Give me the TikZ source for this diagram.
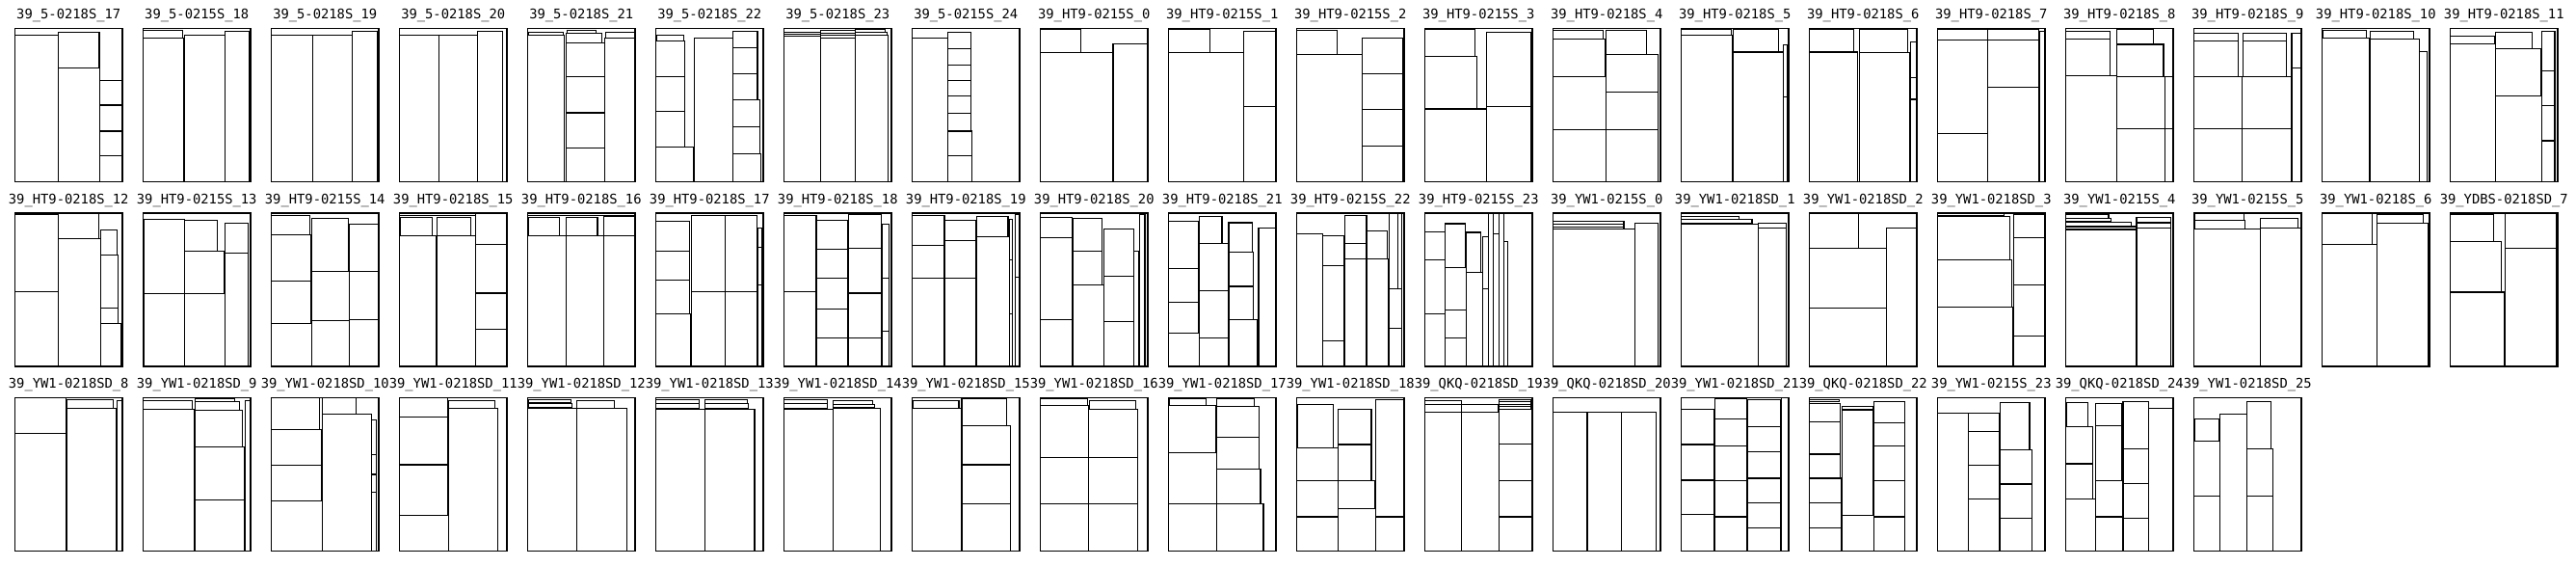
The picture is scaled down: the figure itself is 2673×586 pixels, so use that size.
\documentclass[tikz,border=0pt]{standalone}
\usepackage{fontspec}
\setmonofont{DejaVu Sans Mono}
\tikzset{
  piece/.style={draw=black, line width=1.1pt},
  sheet/.style={draw=black, line width=1.2pt},
  lbl/.style={font=\ttfamily\fontsize{13.8}{14}\selectfont, inner sep=0pt, anchor=base}
}
\newcommand{\cutpanel}[4]{%
  \pgfmathsetmacro{\pnlx}{15.5+133*#1}%
  \pgfmathsetmacro{\pnly}{29.5+191.5*#2}%
  \begin{scope}[shift={(\pnlx pt,-\pnly pt)}, x=1.115pt, y=-1.59pt]
    \foreach \xa/\ya/\xb/\yb in {#4} {\draw[piece] (\xa,\ya) rectangle (\xb,\yb);}
    \draw[sheet] (0,0) rectangle (100,100);
    \node[lbl] (t#1r#2) at (50,-6) {#3};
  \end{scope}}
\begin{document}
\begin{tikzpicture}[x=1pt,y=1pt]
\fill[white] (0,0) rectangle (2673,-586);
\useasboundingbox (0,0) rectangle (2673,-586);
% ---- row 0
\cutpanel{0}{0}{39\_5-0218S\_17}{0/4.2/40.4/100, 40.4/2.5/78.5/25.8, 40.4/25.8/79.2/100, 79.2/33.75/100/50, 79.2/50/100/67, 79.2/67/100/83.3, 79.2/83.3/100/100}
\cutpanel{1}{0}{39\_5-0215S\_18}{0/1.5/37/6.25, 0/6.25/37.7/100, 38.5/4.6/76.2/100, 76.2/2.1/98.8/100}
\cutpanel{2}{0}{39\_5-0218S\_19}{0/4.2/38.5/100, 38.5/4.2/75/100, 75/1.9/98.5/100}
\cutpanel{3}{0}{39\_5-0218S\_20}{0/4.2/36.5/100, 36.5/4.2/72.3/100, 72.3/1.9/96.2/100}
\cutpanel{4}{0}{39\_5-0218S\_21}{0.8/2.5/33.3/4.2, 36.5/1.5/63.5/2.9, 36/2.9/69.4/9.2, 36/9.2/71.8/31.7, 36/31.7/71.8/55, 36/55/71.8/78, 36/78/71.8/100, 0/4.6/34.1/100, 72.5/2.5/99.2/6.25, 71.8/6.25/100/100}
\cutpanel{5}{0}{39\_5-0218S\_22}{0.8/4.2/26.2/8.1, 0/8.1/27/31.25, 0/31.25/27/54, 0/54/27/77.5, 0/77.5/35.4/100, 36.2/6.25/72/100, 72/1.9/94.6/12.5, 72/12.5/94.6/29.6, 72/29.6/94.6/46.7, 72/46.7/97/64, 72/64/97/82, 72/82/98/100}
\cutpanel{6}{0}{39\_5-0218S\_23}{0/2.5/33.7/3.5, 0/3.5/33.7/5, 0/5/33.7/100, 34.1/1.5/66.7/3.1, 34.1/3.1/66.7/4.6, 34.1/4.6/66.7/6.25, 34.1/6.25/66.7/100, 66.7/0.8/93.8/2.5, 66.7/2.5/96.1/4.2, 66.7/4.2/96.9/100}
\cutpanel{7}{0}{39\_5-0215S\_24}{0/6.25/33/100, 33.3/2.5/54.7/13.3, 33.3/13.3/54.7/23.75, 33.3/23.75/54.7/33.75, 33.3/33.75/54.7/44.2, 33.3/44.2/54.7/55.2, 33.3/55.2/54.7/67, 33.3/67/55.4/83.1, 33.3/83.1/55.4/100}
\cutpanel{8}{0}{39\_HT9-0215S\_0}{0/0.4/37.7/16, 0/16/67.7/100, 67.7/9.8/100/100}
\cutpanel{9}{0}{39\_HT9-0215S\_1}{0/0.4/38.9/16, 0/16/69.6/100, 69.6/1.9/100/50.8, 69.6/50.8/100/100}
\cutpanel{10}{0}{39\_HT9-0215S\_2}{0/1.5/38/17, 0/17/60.8/100, 60.8/6.25/98.8/29.6, 60.8/29.6/98.8/53.1, 60.8/53.1/98.8/76.5, 60.8/76.5/98.8/100}
\cutpanel{11}{0}{39\_HT9-0215S\_3}{0/0.8/46.5/18.1, 0/18.1/48.4/52.5, 0/52.5/57.4/100, 57.4/2.5/98.8/50.8, 57.4/50.8/98.8/100}
\cutpanel{12}{0}{39\_HT9-0218S\_4}{0/1.5/46.5/6.7, 0/6.7/48.4/31.25, 0/31.25/49.2/66, 0/66/49.2/100, 49.6/1.5/87.2/16.7, 49.6/16.7/98/41.5, 49.6/41.5/98/66, 49.6/66/98/100}
\cutpanel{13}{0}{39\_HT9-0218S\_5}{0/0.8/46.9/4.2, 0/4.2/47.7/100, 48.4/0.8/90.3/15.4, 48.4/15.4/95/100, 95/10.8/98.8/44.6, 95/44.6/98.8/100}
\cutpanel{14}{0}{39\_HT9-0218S\_6}{0/0.8/41.6/15.4, 46.7/0.8/91.4/16, 0/15.4/44.7/100, 46.7/16/93/100, 94.2/8.75/99.2/32.3, 94.2/32.3/99.2/46.25, 94.2/46.25/99.2/100}
\cutpanel{15}{0}{39\_HT9-0218S\_7}{0/0.8/46.3/7.3, 47/0.8/94.1/7.7, 0/7.3/47/68.75, 0/68.75/47/100, 47/7.7/94.1/38.3, 47/38.3/94.1/100, 94.9/1.9/99.2/100}
\cutpanel{16}{0}{39\_HT9-0218S\_8}{0/1.9/41/7.1, 0/7.1/41/30.6, 47.3/0.8/81.25/10.4, 47.3/10.4/91/31.25, 0/30.6/47.3/100, 47.3/31.25/92.2/65.6, 47.3/65.6/92.2/100, 92.2/31.25/100/65.6, 92.2/65.6/100/100}
\cutpanel{17}{0}{39\_HT9-0218S\_9}{0/3.1/41.2/8.3, 45.9/3.1/86.3/8.3, 0/8.3/41.2/31.25, 45.9/8.3/86.3/31.25, 0/31.25/45.1/65.6, 0/65.6/45.1/100, 45.1/31.25/90.2/65.6, 45.1/65.6/90.2/100, 91/3.1/99.2/26, 91/26/99.2/100}
\cutpanel{18}{0}{39\_HT9-0218S\_10}{0.8/1.5/41/6.25, 44.9/1.9/85.4/7.1, 0/6.25/44.1/100, 44.9/7.1/90.2/100, 90.2/15/98/100}
\cutpanel{19}{0}{39\_HT9-0218S\_11}{0/5.2/41.2/10.2, 0/10.2/42/100, 42.4/2.5/76.5/13.3, 42.4/13.3/84.3/43.75, 42.4/43.75/85.1/100, 85.1/1.9/97.3/27.5, 85.1/27.5/97.3/50.4, 85.1/50.4/97.3/73.3, 85.1/73.3/97.3/100}
% ---- row 1
\cutpanel{0}{1}{39\_HT9-0218S\_12}{0/1/40.4/51.2, 0/51.2/40.4/100, 40.4/0/78/16.8, 40.4/16.8/79.6/100, 80/11.2/95/27.4, 80/27.4/96.2/62.1, 80/62.1/96.2/72.2, 80/72.2/98.8/100}
\cutpanel{1}{1}{39\_HT9-0215S\_13}{0.8/4.2/38.5/52.6, 0.8/52.6/38.5/100, 38.5/4.8/69.2/24.6, 38.5/24.6/75.8/52.6, 38.5/52.6/76.2/100, 76.2/6.7/98/26.3, 76.2/26.3/98/100}
\cutpanel{2}{1}{39\_HT9-0215S\_14}{0/1.7/36/14.1, 0/14.1/36.8/44.6, 0/44.6/37.2/72.2, 0/72.2/38/100, 38/3.6/71.7/38.3, 38/38.3/72.9/70.1, 38/70.1/72.9/100, 72.9/7.4/100/38.3, 72.9/38.3/100/69.5, 72.9/69.5/100/100}
\cutpanel{3}{1}{39\_HT9-0218S\_15}{0/0/70.8/1.7, 0.8/2.7/30.4/14.7, 35/2.7/66.1/14.7, 0/14.7/34.2/100, 35/14.7/70.8/100, 70.8/0.4/99.2/20.4, 70.8/20.4/99.2/52.2, 70.8/52.2/99.2/75.8, 70.8/75.8/99.2/100}
\cutpanel{4}{1}{39\_HT9-0218S\_16}{0/0/100/1.7, 0.8/2.7/29.2/14.7, 35.8/2.7/65/14.7, 71.2/2.1/99.2/14.7, 0/14.7/35.8/100, 35.8/14.7/71.2/100, 71.2/14.7/99.2/100}
\cutpanel{5}{1}{39\_HT9-0218S\_17}{0/5.3/31.5/24.6, 0/24.6/31.5/43.6, 0/43.6/31.5/65.7, 0/65.7/32.7/100, 33.5/1.7/64.2/51.2, 64.2/1.7/94.2/51.2, 33.5/51.2/64.2/100, 64.2/51.2/94.2/100, 95/9.5/98.8/22.1, 95/22.1/98.8/46.7, 95/46.7/98.8/100}
\cutpanel{6}{1}{39\_HT9-0218S\_18}{0/1.7/30/51.2, 0/51.2/30/100, 30.8/4.8/59.6/23.8, 30.8/23.8/59.6/42.7, 30.8/42.7/59.6/62.5, 30.8/62.5/59.6/81.5, 30.8/81.5/59.6/100, 60.4/1/90.4/22.7, 60.4/22.7/90.4/52.2, 60.4/52.2/90.4/81.5, 60.4/81.5/90.4/100, 91.2/7.4/98/42.5, 91.2/42.5/98/77.3, 91.2/77.3/98/100}
\cutpanel{7}{1}{39\_HT9-0218S\_19}{0/1.7/30/21, 0/21/30/42.5, 0/42.5/30/100, 30.8/4.8/59.6/17.9, 30.8/17.9/59.6/42.5, 30.8/42.5/59.6/100, 60.4/2.1/89.2/15.2, 60.4/15.2/90.4/100, 90.4/4.2/93.5/30.5, 90.4/30.5/93.5/65.7, 90.4/65.7/93.5/100, 96.2/1/99.2/41.7, 96.2/41.7/99.2/100}
\cutpanel{8}{1}{39\_HT9-0218S\_20}{0/2.7/29.2/15.8, 0/15.8/29.2/69.5, 0/69.5/29.2/100, 30/3.6/57.7/24.8, 30/24.8/57.7/46.7, 30/46.7/58.8/100, 58.8/10.5/86.9/41, 58.8/41/86.9/70.5, 58.8/70.5/86.9/100, 86.9/24.8/91.5/100, 92.3/1/97.3/100}
\cutpanel{9}{1}{39\_HT9-0218S\_21}{0/5.3/27.8/36.4, 0/36.4/27.8/57.9, 0/57.9/27.8/78.5, 0/78.5/28.6/100, 28.6/2.1/49.8/20, 28.6/20/56/50.5, 28.6/50.5/56/81.5, 28.6/81.5/56/100, 56/6.3/78/25.3, 56/25.3/78.8/47.8, 56/47.8/78.8/69.5, 56/69.5/82.6/100, 83.8/9.5/99.2/100}
\cutpanel{10}{1}{39\_HT9-0215S\_22}{0/13.3/23.8/100, 24.6/14.7/44.2/34.1, 24.6/34.1/44.2/83.2, 24.6/83.2/44.2/100, 45/1.7/65/19.6, 45/19.6/65/30.1, 45/30.1/65/100, 65/11.6/84.6/30.1, 65/30.1/85.4/100, 86.2/0/93.8/49.5, 93.8/0/97.7/49.5, 86.2/49.5/97.7/75.2, 86.2/75.2/97.7/100}
\cutpanel{11}{1}{39\_HT9-0215S\_23}{0/12.2/18.6/30.5, 0/30.5/18.6/65.7, 0/65.7/18.6/100, 18.6/6.9/37.6/35.8, 18.6/35.8/38.4/63.2, 18.6/63.2/38.4/81.7, 18.6/81.7/38.4/100, 38.8/12.6/52.3/38.9, 38.8/38.9/53.5/100, 53.5/15.4/58.9/49.5, 53.5/49.5/58.9/100, 59.3/0.4/64/100, 64/13.3/69/100, 69/0.4/73.6/100, 73.6/18.5/77.5/100}
\cutpanel{12}{1}{39\_YW1-0215S\_0}{0/5.3/65.9/7.4, 0/7.4/65.9/9, 0/9/65.9/10.5, 0/10.5/76.4/100, 76.4/6.7/98/100}
\cutpanel{13}{1}{39\_YW1-0218SD\_1}{0/2.1/53.5/4.2, 0/4.2/65.9/6.7, 0/7.4/71.7/100, 71.7/6.7/98.1/9.5, 71.7/9.5/98.1/100}
\cutpanel{14}{1}{39\_YW1-0218SD\_2}{0/0/45.5/23.2, 0/23.2/71.6/61.7, 0/61.7/71.6/100, 71.6/9.5/99.2/100}
\cutpanel{15}{1}{39\_YW1-0218SD\_3}{0/0.4/61.5/1.7, 0/2.1/66.9/30.5, 0/30.5/68.9/61.5, 0/61.5/70/100, 70.8/1/100/15.8, 70.8/15.8/100/46.7, 70.8/46.7/100/80, 70.8/80/100/100}
\cutpanel{16}{1}{39\_YW1-0215S\_4}{0/1/39.9/3.2, 0/3.6/41.9/5.3, 0/5.7/61.2/8.4, 0/8.8/65.1/10.5, 0/10.9/65.9/100, 65.9/2.7/98.1/6.3, 65.9/6.3/98.1/9.5, 65.9/9.9/98.1/100}
\cutpanel{17}{1}{39\_YW1-0215S\_5}{0.8/0/46.3/4.8, 0.8/4.8/47.8/10.5, 0/10.5/61.6/100, 62/3.6/96.9/9.5, 62/9.5/99.2/100}
\cutpanel{18}{1}{39\_YW1-0218S\_6}{0/0/46.9/20.4, 0/20.4/50.8/100, 51.2/1/94.5/6.7, 51.2/6.7/98.4/100}
\cutpanel{19}{1}{39\_YDBS-0218SD\_7}{0/1/40.4/18.3, 0/18.3/47.8/51.6, 0/51.6/49.8/100, 51/0.4/98.4/23.2, 51/23.2/98.4/100}
% ---- row 2
\cutpanel{0}{2}{39\_YW1-0218SD\_8}{0/0/47.3/23.1, 0/23.1/47.3/100, 48.1/1.3/91.2/6.9, 48.1/6.9/94.2/100, 95/2.1/99.2/100}
\cutpanel{1}{2}{39\_YW1-0218SD\_9}{0/1.7/45.4/7.4, 0/7.4/47.3/100, 48.1/0.6/85/2.7, 48.1/2.7/89.6/8.4, 48.1/8.4/92.7/32.1, 48.1/32.1/94.2/66.8, 48.1/66.8/94.2/100, 95.4/1.7/99.2/100}
\cutpanel{2}{2}{39\_YW1-0218SD\_10}{0/0/44.6/21, 0/21/46.5/44.1, 0/44.1/46.5/67.2, 0/67.2/47.7/100, 47.7/0/78.7/10.5, 47.7/10.5/93.4/100, 93.4/14.3/98.1/37, 93.4/37/98.1/50, 93.4/50/98.1/61.6, 93.4/61.6/98.1/100}
\cutpanel{3}{2}{39\_YW1-0218SD\_11}{0/0/44.7/12.6, 0/12.6/44.7/43.7, 0/43.7/44.7/76.9, 0/76.9/45.5/100, 45.9/1.7/88.7/6.9, 45.9/6.9/91.4/100}
\cutpanel{4}{2}{39\_YW1-0218SD\_12}{0.8/1/40.1/3.2, 0.8/3.8/40.9/6.3, 0/6.9/45.5/100, 45.9/1.7/80.9/6.9, 45.9/6.9/92.2/100}
\cutpanel{5}{2}{39\_YW1-0218SD\_13}{0/1/40.4/3.8, 0/3.8/40.4/6.9, 0/7.4/45.8/100, 45.8/1/85.4/3.8, 45.8/3.8/86.2/6.9, 45.8/7.4/91.9/100}
\cutpanel{6}{2}{39\_YW1-0218SD\_14}{0/1/40.4/3.8, 0/3.8/40.4/6.9, 0/7.4/45.4/100, 45.4/2.1/82.7/4.2, 45.4/4.2/84.6/6.3, 45.4/6.7/89.6/100}
\cutpanel{7}{2}{39\_YW1-0218SD\_15}{0.8/1.7/43.5/6.9, 0/6.9/46.2/100, 46.2/0.6/87.7/18.1, 46.2/18.1/91.2/43.7, 46.2/43.7/91.2/69.3, 46.2/69.3/91.2/100}
\cutpanel{8}{2}{39\_YW1-0218SD\_16}{0/0.6/44.2/5.3, 45.4/2.1/88.5/7.6, 0/5.3/44.6/38.9, 0/38.9/44.6/69.3, 0/69.3/44.6/100, 44.6/7.6/90.8/38.9, 44.6/38.9/90.8/69.3, 44.6/69.3/90.8/100}
\cutpanel{9}{2}{39\_YW1-0218SD\_17}{0.8/0.6/34.6/5.3, 44.7/0.6/79.8/5.9, 0/5.3/43.6/35.9, 0/35.9/44.7/69.3, 0/69.3/44.7/100, 44.7/5.9/84.4/25.8, 44.7/25.8/84.4/46.4, 44.7/46.4/85.6/69.3, 44.7/69.3/88.3/100}
\cutpanel{10}{2}{39\_YW1-0218SD\_18}{0.8/4.2/34.4/32.8, 0/32.8/38.2/54.2, 0/54.2/38.2/77.7, 0/77.7/38.2/100, 38.2/7.6/69.5/30.5, 38.2/30.5/69.5/54.2, 38.2/54.2/73/72.1, 38.2/72.1/73.4/100, 73.4/1.3/99.2/77.7, 73.4/77.7/99.2/100}
\cutpanel{11}{2}{39\_QKQ-0218SD\_19}{0/1.7/33.9/4.4, 0/4.4/33.9/9.5, 33.9/4.4/68.1/9.5, 0/9.5/33.9/100, 33.9/9.5/68.9/100, 68.9/1.3/98.4/2.7, 68.9/2.7/98.4/4.2, 68.9/4.2/98.4/5.9, 68.9/5.9/98.4/7.6, 68.9/7.6/99.2/30, 68.9/30/99.2/54.2, 68.9/54.2/99.2/77.7, 68.9/77.7/99.2/100}
\cutpanel{12}{2}{39\_QKQ-0218SD\_20}{0/9.5/31.8/100, 31.8/9.5/64/100, 64/9.5/95.7/100}
\cutpanel{13}{2}{39\_YW1-0218SD\_21}{0/7.6/30.2/30.5, 0/30.5/30.2/53.8, 0/53.8/30.2/76.3, 0/76.3/30.2/100, 31/0.6/61.2/13.9, 31/13.9/61.2/31.7, 31/31.7/61.2/54.2, 31/54.2/61.2/77.7, 31/77.7/61.2/100, 62/1/92.2/19.1, 62/19.1/92.2/35.3, 62/35.3/92.2/52.5, 62/52.5/92.2/68.5, 62/68.5/92.2/84.7, 62/84.7/92.2/100, 93/0/100/100}
\cutpanel{14}{2}{39\_QKQ-0218SD\_22}{0/1.3/28/2.7, 0/3.8/28.8/16, 0/16/28.8/36.8, 0/36.8/28.8/52.5, 0/52.5/30/68.5, 0/68.5/30/84.7, 0/84.7/30/100, 30.7/5.9/59.1/7.6, 30.7/8/59.1/76.7, 30.7/76.7/59.9/100, 59.9/2.3/89.1/16.4, 59.9/16.4/89.1/31.7, 59.9/31.7/89.1/54.2, 59.9/54.2/89.1/77.7, 59.9/77.7/89.1/100}
\cutpanel{15}{2}{39\_YW1-0215S\_23}{0/10.1/28.4/100, 28.4/10.1/57.6/22.1, 28.4/22.1/57.6/44.1, 28.4/44.1/57.6/66.2, 28.4/66.2/57.6/100, 58.4/3.2/85.6/33.8, 58.4/33.8/87.5/56.3, 58.4/56.3/87.5/78.4, 58.4/78.4/87.5/100}
\cutpanel{16}{2}{39\_QKQ-0218SD\_24}{0.8/3.2/21/18.9, 0/18.9/25.3/43.1, 0/43.1/25.3/65.8, 0/65.8/28/100, 28/3.8/52.1/18.5, 28/18.5/52.1/54.2, 28/54.2/53.3/77.7, 28/77.7/53.3/100, 53.3/2.3/77.4/33.2, 53.3/33.2/77.4/55.7, 53.3/55.7/77.4/78.4, 53.3/78.4/77.4/100, 77.4/6.9/99.2/100}
\cutpanel{17}{2}{39\_YW1-0218SD\_25}{0.8/13.9/23.5/28.4, 0/28.4/24.3/64.3, 0/64.3/24.3/100, 24.3/10.5/49/100, 49/2.3/71.8/33.2, 49/33.2/73.7/64.1, 49/64.1/73.7/100}
\end{tikzpicture}
\end{document}
